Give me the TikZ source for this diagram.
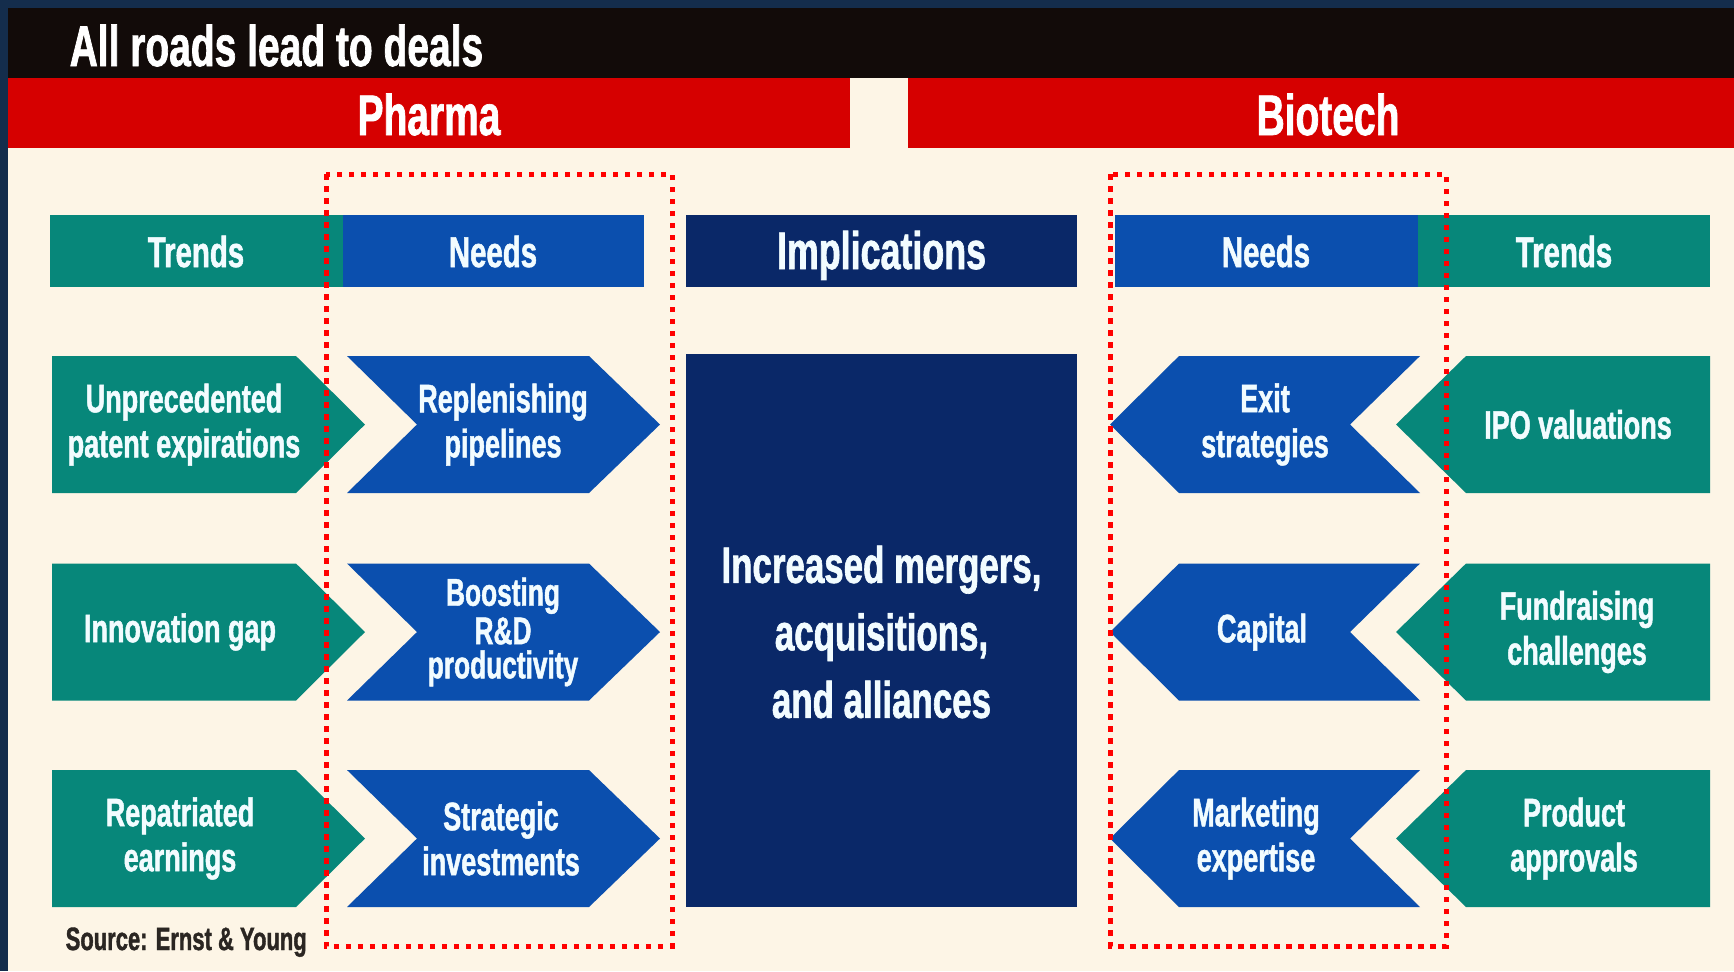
\documentclass[tikz,border=0pt]{standalone}
\usepackage{fontspec}
\setmainfont{Liberation Sans}[FakeStretch=0.68,BoldFeatures={FakeBold=1.2}]

\definecolor{framenavy}{HTML}{142D4C}
\definecolor{barblack}{HTML}{120B09}
\definecolor{barred}{HTML}{D60000}
\definecolor{paper}{HTML}{FDF5E6}
\definecolor{trendteal}{HTML}{07877A}
\definecolor{needblue}{HTML}{0B4FAE}
\definecolor{implnavy}{HTML}{0A2868}
\definecolor{sourcegray}{HTML}{2B2622}
\definecolor{labelwhite}{HTML}{F2FCFF}

\begin{document}
\begin{tikzpicture}[x=0.1mm,y=-0.1mm,
    txt/.style={text=labelwhite,font=\bfseries\fontsize{11.3}{12.8}\selectfont,align=center,inner sep=0pt},
    hdr/.style={text=labelwhite,font=\bfseries\fontsize{12.3}{14}\selectfont,inner sep=0pt,anchor=base},
    side/.style={text=white,font=\bfseries\fontsize{16.3}{18}\selectfont,inner sep=0pt},
    trendfill/.style={fill=trendteal},
    needfill/.style={fill=needblue},
    focus/.style={draw=red,line width=0.5mm,dash pattern=on 0.55mm off 0.65mm}]

  \useasboundingbox (0,0) rectangle (1734,971);
  % frame, title and the two red bars
  \fill[framenavy] (0,0) rectangle (1734,971);
  \fill[paper] (8,8) rectangle (1734,971);
  \fill[barblack] (8,8) rectangle (1734,78);
  \fill[barred] (8,78) rectangle (850,148);
  \fill[barred] (908,78) rectangle (1734,148);
  \node[side,anchor=base west] (title)   at (69,66)   {All roads lead to deals};
  \node[side,anchor=base]      (pharma)  at (429,135) {Pharma};
  \node[side,anchor=base]      (biotech) at (1328,135) {Biotech};

  % column heads
  \fill[trendfill] (50,215) rectangle (343,287);
  \fill[needfill]  (343,215) rectangle (644,287);
  \fill[implnavy]  (686,215) rectangle (1077,287);
  \fill[needfill]  (1115,215) rectangle (1418,287);
  \fill[trendfill] (1418,215) rectangle (1710,287);
  \node[hdr] (trendsL) at (196,267)  {Trends};
  \node[hdr] (needsL)  at (493,267)  {Needs};
  \node[hdr,font=\bfseries\fontsize{15}{17}\selectfont] (impl) at (881.5,269) {Implications};
  \node[hdr] (needsR)  at (1266,267) {Needs};
  \node[hdr] (trendsR) at (1564,267) {Trends};

  % arrows, three rows each side
  \foreach \yc in {424.5,632,838.5}{
    \fill[trendfill] (52,\yc-68.5) -- (296,\yc-68.5) -- (365,\yc) -- (296,\yc+68.5) -- (52,\yc+68.5) -- cycle;
    \fill[needfill] (347,\yc-68.5) -- (589,\yc-68.5) -- (660,\yc) -- (589,\yc+68.5) -- (347,\yc+68.5) -- (417,\yc) -- cycle;
    \fill[needfill] (1420,\yc-68.5) -- (1179,\yc-68.5) -- (1110,\yc) -- (1179,\yc+68.5) -- (1420,\yc+68.5) -- (1350,\yc) -- cycle;
    \fill[trendfill] (1710,\yc-68.5) -- (1466,\yc-68.5) -- (1396,\yc) -- (1466,\yc+68.5) -- (1710,\yc+68.5) -- cycle;
  }

  \node[txt] (patents)   at (184,424.5) {Unprecedented\\patent expirations};
  \node[txt] (pipelines) at (503,424.5) {Replenishing\\pipelines};
  \node[txt] (gap)       at (180,632)   {Innovation gap};
  \node[txt,font=\bfseries\fontsize{11}{9.7}\selectfont] (rnd) at (503,632) {Boosting\\R\&D\\productivity};
  \node[txt] (earnings)  at (180,838.5) {Repatriated\\earnings};
  \node[txt] (strategic) at (501,838.5) {Strategic\\investments};

  \node[txt] (exits)       at (1265,424.5) {Exit\\strategies};
  \node[txt] (ipo)         at (1578,424.5) {IPO valuations};
  \node[txt] (capital)     at (1262,632)   {Capital};
  \node[txt] (fundraising) at (1577,632)   {Fundraising\\challenges};
  \node[txt] (marketing)   at (1256,838.5) {Marketing\\expertise};
  \node[txt] (approvals)   at (1574,838.5) {Product\\approvals};

  % the middle block
  \fill[implnavy] (686,354) rectangle (1077,907);
  \node[txt,font=\bfseries\fontsize{14.6}{19.2}\selectfont] (deals) at (881.5,632) {Increased mergers,\\acquisitions,\\and alliances};

  \node[anchor=base west,inner sep=0pt,text=sourcegray,font=\bfseries\fontsize{9.2}{11}\selectfont] (source) at (65,950) {Source: Ernst \& Young};

  % red dotted frames round the needs
  \draw[focus] (326,174) rectangle (672,946);
  \draw[focus] (1110,174) rectangle (1446,946);
\end{tikzpicture}
\end{document}
